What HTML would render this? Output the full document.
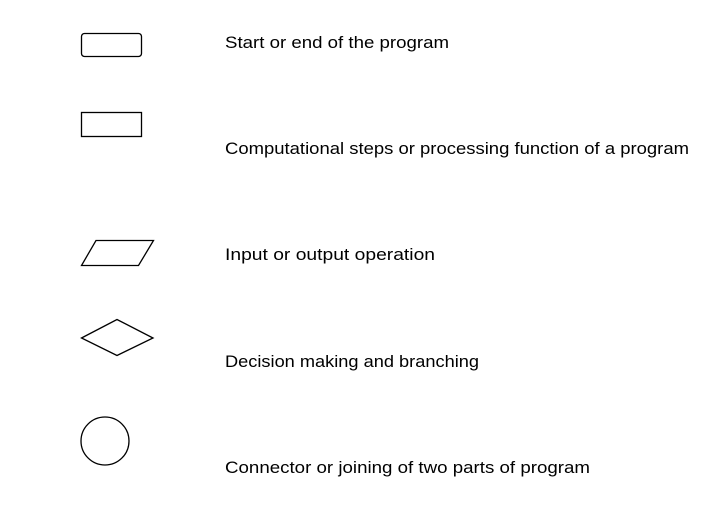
<!DOCTYPE html>
<html><head><style>html,body{margin:0;padding:0;background:#fff;}</style></head>
<body>
<svg width="725" height="513" xmlns="http://www.w3.org/2000/svg" style="display:block">
<g fill="none" stroke="#000" stroke-width="1.3">
<rect x="81.5" y="33.5" width="60" height="23" rx="3"/>
<rect x="81.5" y="112.5" width="60" height="24"/>
<polygon points="96,240.5 153.5,240.5 138.5,265.5 81.5,265.5"/>
<polygon points="81.5,338 117,319.5 153,338 117,355.5"/>
<circle cx="105" cy="441" r="24"/>
</g>
<g font-family="Liberation Sans, sans-serif" font-size="17" fill="#000">
<text x="225" y="48" textLength="224" lengthAdjust="spacingAndGlyphs">Start or end of the program</text>
<text x="225" y="154" textLength="464" lengthAdjust="spacingAndGlyphs">Computational steps or processing function of a program</text>
<text x="225" y="260" textLength="210" lengthAdjust="spacingAndGlyphs">Input or output operation</text>
<text x="225" y="367" textLength="254" lengthAdjust="spacingAndGlyphs">Decision making and branching</text>
<text x="225" y="473" textLength="365" lengthAdjust="spacingAndGlyphs">Connector or joining of two parts of program</text>
</g>
</svg>
</body></html>
